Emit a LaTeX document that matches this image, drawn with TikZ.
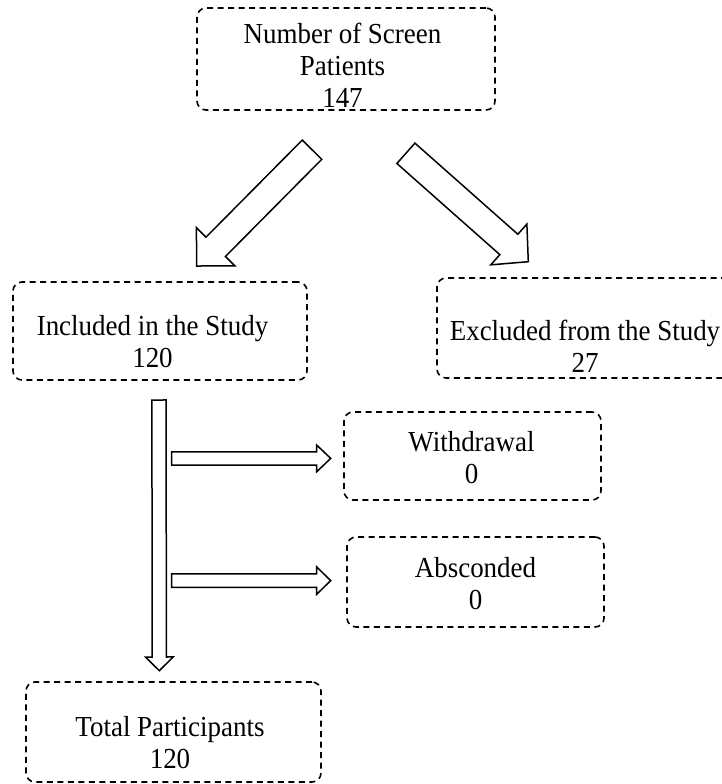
\documentclass[tikz,border=0pt]{standalone}
\usepackage{fontspec}
\setmainfont{Liberation Serif}[FakeStretch=0.93]
\usetikzlibrary{calc}
\tikzset{
  box/.style={draw, line width=1.6pt, dash pattern=on 6pt off 4.5pt, rounded corners=9pt,
              rectangle, inner sep=0pt, outer sep=0pt},
  txt/.style={align=center, font=\fontsize{29}{32}\selectfont, inner sep=0pt},
  arrowline/.style={draw, line width=1.5pt, fill=white, line join=miter}
}
\newcommand{\blkarrow}[5]{% #1 shaft half width, #2 head half width, #3 head length, #4 from, #5 to
  \coordinate (fahb) at ($(#5)!#3!(#4)$);
  \path[arrowline] ($(#4)!#1!90:(#5)$) -- ($(fahb)!#1!90:(#5)$) -- ($(fahb)!#2!90:(#5)$)
     -- (#5) -- ($(fahb)!#2!-90:(#5)$) -- ($(fahb)!#1!-90:(#5)$) -- ($(#4)!#1!-90:(#5)$) -- cycle;
}
\begin{document}
\begin{tikzpicture}[x=1pt,y=-1pt]
\useasboundingbox (0,0) rectangle (722,784);
\clip (0,0) rectangle (722,784);
% boxes
\node[box, minimum width=298pt, minimum height=102pt] (bTop) at (346,59) {};
\node[box, minimum width=294pt, minimum height=98pt] (bInc) at (160,331) {};
\node[box, minimum width=299pt, minimum height=100pt] (bExc) at (586.5,328) {};
\node[box, minimum width=257pt, minimum height=88pt] (bWith) at (472.5,456) {};
\node[box, minimum width=257pt, minimum height=90pt] (bAbs) at (475.5,582) {};
\node[box, minimum width=295pt, minimum height=100pt] (bTot) at (173.5,732) {};
% texts
\node[txt] (tTop) at (342.5,65) {Number of Screen\\Patients\\147};
\node[txt] (tInc) at (152.5,341.5) {Included in the Study\\120};
\node[txt] (tExc) at (585,346) {Excluded from the Study\\27};
\node[txt] (tWith) at (471.5,457.5) {Withdrawal\\0};
\node[txt] (tAbs) at (475.5,584) {Absconded\\0};
\node[txt] (tTot) at (170,743) {Total Participants\\120};
% arrow end points
\coordinate (a1s) at (312,149.7);   \coordinate (a1e) at (196.7,266);
\coordinate (a2s) at (405.9,153.3); \coordinate (a2e) at (528.3,261.7);
\coordinate (a3s) at (159,400);     \coordinate (a3e) at (159.3,670.7);
\coordinate (a4s) at (171.7,458.4); \coordinate (a4e) at (330.7,458.4);
\coordinate (a5s) at (171.7,580.6); \coordinate (a5e) at (330.7,580.6);
% block arrows
\blkarrow{13.7pt}{27.2pt}{27pt}{a1s}{a1e}
\blkarrow{13.6pt}{27.2pt}{26pt}{a2s}{a2e}
\blkarrow{7.1pt}{13.85pt}{13.7pt}{a3s}{a3e}
\blkarrow{6.65pt}{13.35pt}{14pt}{a4s}{a4e}
\blkarrow{6.65pt}{13.65pt}{14pt}{a5s}{a5e}
\end{tikzpicture}
\end{document}
